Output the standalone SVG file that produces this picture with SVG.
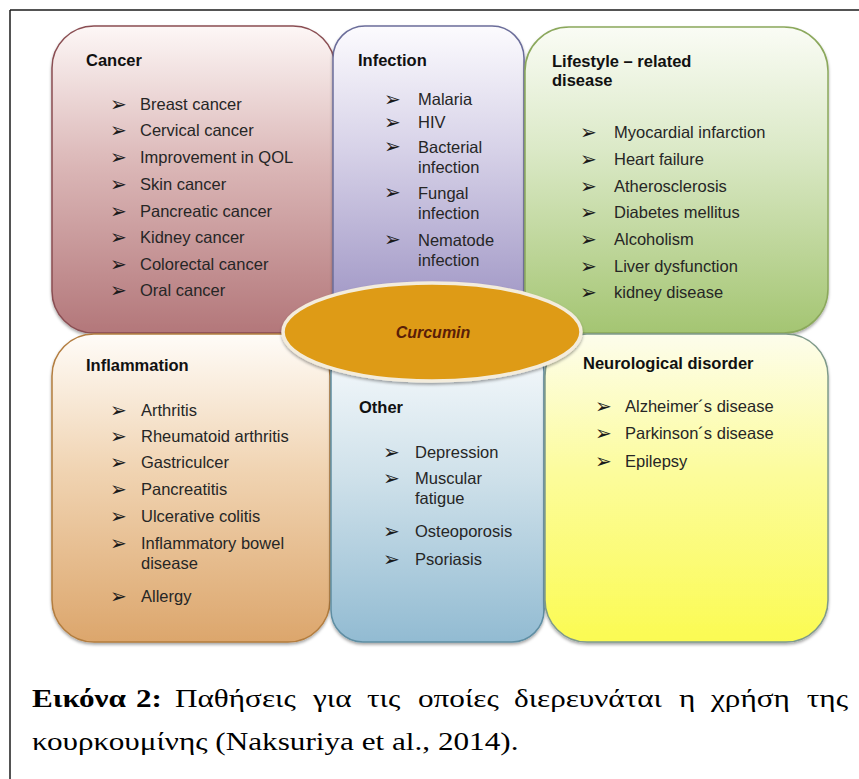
<svg xmlns="http://www.w3.org/2000/svg" width="859" height="779" viewBox="0 0 859 779">
<style>
.t{font-family:"Liberation Sans",Arial,sans-serif;font-size:16.5px;font-weight:bold;fill:#111}
.i{font-family:"Liberation Sans",Arial,sans-serif;font-size:16.5px;fill:#262626}
.b{font-family:"DejaVu Sans",sans-serif;font-size:20px;fill:#1a1a1a}
.cap{font-family:"Liberation Serif","Times New Roman",serif;font-size:26px;fill:#000}
.box{stroke-width:1.5}
</style>
<defs>
<filter id="sh" x="-10%" y="-10%" width="120%" height="125%">
<feDropShadow dx="0" dy="2" stdDeviation="1.5" flood-color="#000" flood-opacity="0.35"/>
</filter>
<linearGradient id="gC" x1="0" y1="0" x2="0" y2="1"><stop offset="0" stop-color="#fdf7f6"/><stop offset="0.45" stop-color="#dbb7b7"/><stop offset="1" stop-color="#b3777a"/></linearGradient>
<linearGradient id="gI" x1="0" y1="0" x2="0" y2="1"><stop offset="0" stop-color="#fcfbfe"/><stop offset="0.4" stop-color="#d7d2e8"/><stop offset="1" stop-color="#988ec0"/></linearGradient>
<linearGradient id="gL" x1="0" y1="0" x2="0" y2="1"><stop offset="0" stop-color="#fafcf5"/><stop offset="0.4" stop-color="#dbe9c7"/><stop offset="1" stop-color="#a4c572"/></linearGradient>
<linearGradient id="gF" x1="0" y1="0" x2="0" y2="1"><stop offset="0" stop-color="#fffcf8"/><stop offset="0.45" stop-color="#f0d3b1"/><stop offset="1" stop-color="#dca66c"/></linearGradient>
<linearGradient id="gO" x1="0" y1="0" x2="0" y2="1"><stop offset="0" stop-color="#f8fbfd"/><stop offset="0.45" stop-color="#cfe1ea"/><stop offset="1" stop-color="#92bbd2"/></linearGradient>
<linearGradient id="gN" x1="0" y1="0" x2="0" y2="1"><stop offset="0" stop-color="#fdfdec"/><stop offset="0.45" stop-color="#fcfc9c"/><stop offset="1" stop-color="#fbfb52"/></linearGradient>
</defs>

<g id="frame" fill="none" stroke="#1a1a1a" stroke-width="1.5">
<line x1="10" y1="10" x2="859" y2="10"/>
<line x1="10" y1="10" x2="10" y2="779"/>
</g>

<g id="connectors"></g>

<g id="cancer">
<rect class="box" x="52" y="26" width="283" height="307" rx="42" fill="url(#gC)" stroke="#8a4e52" filter="url(#sh)"/>
<text class="t" x="86" y="66">Cancer</text>
<g class="b"><text x="110" y="111">➢</text><text x="110" y="137">➢</text><text x="110" y="164">➢</text><text x="110" y="191">➢</text><text x="110" y="218">➢</text><text x="110" y="244">➢</text><text x="110" y="271">➢</text><text x="110" y="297">➢</text></g>
<text class="i" x="140" y="110">Breast cancer</text>
<text class="i" x="140" y="136">Cervical cancer</text>
<text class="i" x="140" y="163">Improvement in QOL</text>
<text class="i" x="140" y="190">Skin cancer</text>
<text class="i" x="140" y="217">Pancreatic cancer</text>
<text class="i" x="140" y="243">Kidney cancer</text>
<text class="i" x="140" y="270">Colorectal cancer</text>
<text class="i" x="140" y="296">Oral cancer</text>
</g>

<g id="infection">
<rect class="box" x="333" y="26" width="191" height="307" rx="32" fill="url(#gI)" stroke="#6b6d9a" filter="url(#sh)"/>
<text class="t" x="358" y="66">Infection</text>
<g class="b"><text x="384" y="106">➢</text><text x="384" y="129">➢</text><text x="384" y="153">➢</text><text x="384" y="199">➢</text><text x="384" y="246">➢</text></g>
<text class="i" x="418" y="105">Malaria</text>
<text class="i" x="418" y="128">HIV</text>
<text class="i" x="418" y="153">Bacterial</text>
<text class="i" x="418" y="173">infection</text>
<text class="i" x="418" y="199">Fungal</text>
<text class="i" x="418" y="219">infection</text>
<text class="i" x="418" y="246">Nematode</text>
<text class="i" x="418" y="266">infection</text>
</g>

<g id="lifestyle">
<rect class="box" x="525" y="27" width="303" height="306" rx="44" fill="url(#gL)" stroke="#8ba85c" filter="url(#sh)"/>
<text class="t" x="552" y="67">Lifestyle – related</text>
<text class="t" x="552" y="86">disease</text>
<g class="b"><text x="580" y="139">➢</text><text x="580" y="166">➢</text><text x="580" y="193">➢</text><text x="580" y="219">➢</text><text x="580" y="246">➢</text><text x="580" y="273">➢</text><text x="580" y="299">➢</text></g>
<text class="i" x="614" y="138">Myocardial infarction</text>
<text class="i" x="614" y="165">Heart failure</text>
<text class="i" x="614" y="192">Atherosclerosis</text>
<text class="i" x="614" y="218">Diabetes mellitus</text>
<text class="i" x="614" y="245">Alcoholism</text>
<text class="i" x="614" y="272">Liver dysfunction</text>
<text class="i" x="614" y="298">kidney disease</text>
</g>

<g id="inflammation">
<rect class="box" x="52" y="334" width="278" height="308" rx="42" fill="url(#gF)" stroke="#b37d3f" filter="url(#sh)"/>
<text class="t" x="86" y="371">Inflammation</text>
<g class="b"><text x="110" y="417">➢</text><text x="110" y="443">➢</text><text x="110" y="469">➢</text><text x="110" y="496">➢</text><text x="110" y="523">➢</text><text x="110" y="550">➢</text><text x="110" y="603">➢</text></g>
<text class="i" x="141" y="416">Arthritis</text>
<text class="i" x="141" y="442">Rheumatoid arthritis</text>
<text class="i" x="141" y="468">Gastriculcer</text>
<text class="i" x="141" y="495">Pancreatitis</text>
<text class="i" x="141" y="522">Ulcerative colitis</text>
<text class="i" x="141" y="549">Inflammatory bowel</text>
<text class="i" x="141" y="569">disease</text>
<text class="i" x="141" y="602">Allergy</text>
</g>

<g id="other">
<rect class="box" x="331" y="340" width="213" height="302" rx="32" fill="url(#gO)" stroke="#5f8ea3" filter="url(#sh)"/>
<text class="t" x="359" y="413">Other</text>
<g class="b"><text x="383" y="459">➢</text><text x="383" y="485">➢</text><text x="383" y="538">➢</text><text x="383" y="566">➢</text></g>
<text class="i" x="415" y="458">Depression</text>
<text class="i" x="415" y="484">Muscular</text>
<text class="i" x="415" y="504">fatigue</text>
<text class="i" x="415" y="537">Osteoporosis</text>
<text class="i" x="415" y="565">Psoriasis</text>
</g>

<g id="neurological">
<rect class="box" x="545" y="334" width="283" height="308" rx="42" fill="url(#gN)" stroke="#7f9a8a" filter="url(#sh)"/>
<text class="t" x="583" y="369">Neurological disorder</text>
<g class="b"><text x="595" y="413">➢</text><text x="595" y="440">➢</text><text x="595" y="468">➢</text></g>
<text class="i" x="625" y="412">Alzheimer´s disease</text>
<text class="i" x="625" y="439">Parkinson´s disease</text>
<text class="i" x="625" y="467">Epilepsy</text>
</g>

<g id="curcumin">
<ellipse cx="432" cy="332" rx="149" ry="49" fill="#de9b15" stroke="#f3ecdc" stroke-width="3.5" filter="url(#sh)"/>
<text x="433" y="338" text-anchor="middle" style="font-family:'Liberation Sans',Arial,sans-serif;font-size:16px;font-weight:bold;font-style:italic;fill:#5a1e08">Curcumin</text>
</g>

<g id="caption" class="cap">
<text transform="translate(32,707) scale(1.2,1)" font-weight="bold">Εικόνα</text>
<text transform="translate(136,707) scale(1.2,1)" font-weight="bold">2:</text>
<text transform="translate(175,707) scale(1.2,1)">Παθήσεις</text>
<text transform="translate(313,707) scale(1.2,1)">για</text>
<text transform="translate(367,707) scale(1.2,1)">τις</text>
<text transform="translate(418,707) scale(1.2,1)">οποίες</text>
<text transform="translate(514,707) scale(1.2,1)">διερευνάται</text>
<text transform="translate(679,707) scale(1.2,1)">η</text>
<text transform="translate(711,707) scale(1.2,1)">χρήση</text>
<text transform="translate(848,707) scale(1.2,1)" text-anchor="end">της</text>
<text transform="translate(32,750) scale(1.2,1)">κουρκουμίνης (Naksuriya et al., 2014).</text>
</g>
</svg>
